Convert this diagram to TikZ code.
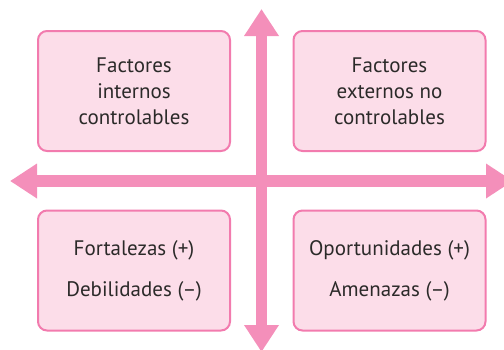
\documentclass[tikz,border=0pt]{standalone}
\usepackage{fontspec}
\setmainfont{PT Sans}
\usetikzlibrary{arrows.meta}
\definecolor{axispink}{HTML}{F48FBA}
\definecolor{boxfill}{HTML}{FCDDE9}
\definecolor{boxline}{HTML}{F27BAE}
\definecolor{ink}{HTML}{2B2A29}
\begin{document}
\begin{tikzpicture}[x=1pt,y=-1pt,font=\fontsize{21}{26}\selectfont,
  quad/.style={draw=boxline,fill=boxfill,line width=2pt,rounded corners=9pt,minimum width=192pt,minimum height=120pt,align=center,text=ink,inner sep=0},
  axisline/.style={draw=axispink,line width=11.5pt,{Triangle[length=27pt,width=33pt]}-{Triangle[length=27pt,width=33pt]}}]
  \useasboundingbox (0,0) rectangle (504,349);
  \clip (0,0) rectangle (504,349);
  % axes
  \coordinate (west) at (10,181);
  \coordinate (east) at (513,181);
  \coordinate (north) at (261.5,9);
  \coordinate (south) at (261.5,352);
  \draw[axisline] (west) -- (east);
  \draw[axisline] (south) -- (north);
  % quadrants
  \node[quad] (internos) at (134,91) {Factores\\internos\\controlables};
  \node[quad] (externos) at (389.5,91) {Factores\\externos no\\controlables};
  \node[quad] (fd) at (134,270.5) {Fortalezas (+)\\[15pt]Debilidades (--)};
  \node[quad] (oa) at (389.5,270.5) {Oportunidades (+)\\[15pt]Amenazas (--)};
\end{tikzpicture}
\end{document}
